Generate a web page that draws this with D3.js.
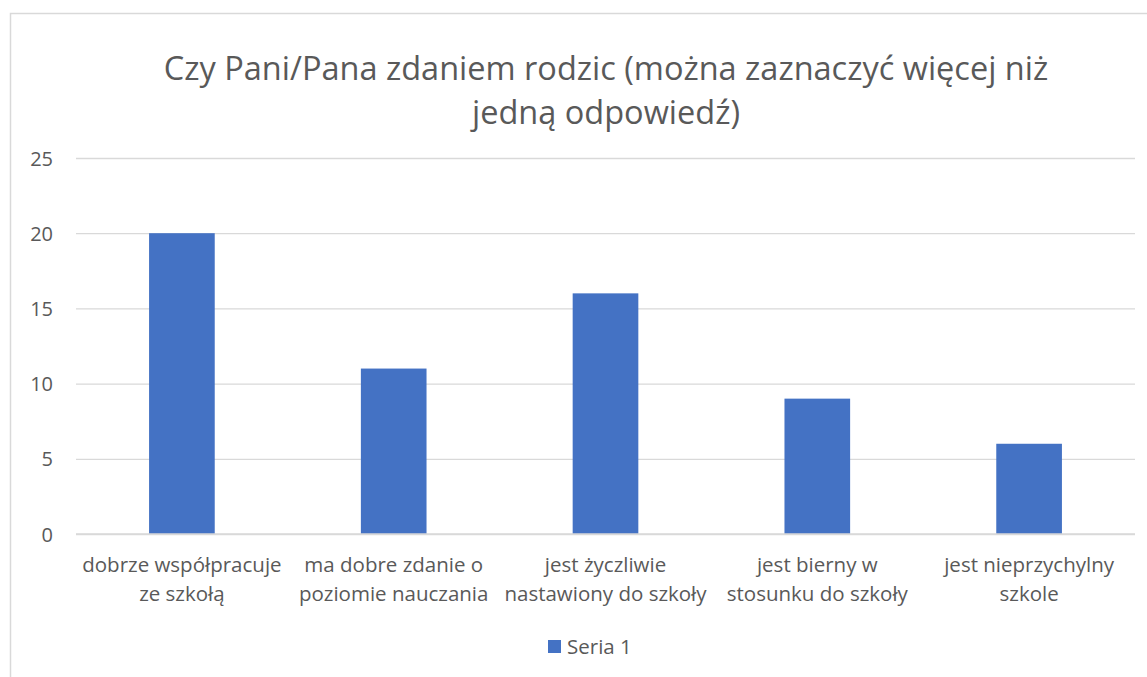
<!DOCTYPE html>
<html>
<head>
<meta charset="utf-8">
<script src="https://cdn.jsdelivr.net/npm/d3@7"></script>
<style>
  body { margin: 0; background: #fff; }
  svg { font-family: "Open Sans", sans-serif; }
</style>
</head>
<body>
<div id="chart"></div>
<script>
var categories = [
    ["dobrze współpracuje", "ze szkołą"],
    ["ma dobre zdanie o", "poziomie nauczania"],
    ["jest życzliwie", "nastawiony do szkoły"],
    ["jest bierny w", "stosunku do szkoły"],
    ["jest nieprzychylny", "szkole"]
];
var values = [20, 11, 16, 9, 6];
var yTicks = [0, 5, 10, 15, 20, 25];
var titleLines = ["Czy Pani/Pana zdaniem rodzic (można zaznaczyć więcej niż", "jedną odpowiedź)"];
var seriesName = "Seria 1";

var width = 1147, height = 677;
var margin = {top: 158, bottom: 143, left: 76, right: 12};
var barColor = "#4472c4";
var textColor = "#595959";

var svg = d3.select("#chart").append("svg")
    .attr("width", width)
    .attr("height", height);

// chart frame
svg.append("rect")
    .attr("x", 10.5).attr("y", 13.5)
    .attr("width", width + 20).attr("height", height + 20)
    .attr("fill", "none")
    .attr("stroke", "#d9d9d9")
    .attr("stroke-width", 1.5);

svg.selectAll(".title").data(titleLines).enter()
    .append("text")
    .attr("class", "title")
    .attr("x", 606)
    .attr("y", function (d, i) { return 80 + i * 44; })
    .attr("text-anchor", "middle")
    .attr("font-size", 32.5)
    .attr("fill", textColor)
    .text(function (d) { return d; });

var x = d3.scaleBand()
    .domain(d3.range(values.length))
    .range([margin.left, width - margin.right])
    .paddingInner(0.69)
    .paddingOuter(0.345);

var y = d3.scaleLinear()
    .domain([0, 25])
    .range([height - margin.bottom, margin.top]);

var yAxis = svg.append("g")
    .attr("transform", "translate(" + margin.left + ",0)")
    .call(d3.axisLeft(y).tickValues(yTicks).tickSize(-(width - margin.right - margin.left)).tickPadding(23));

yAxis.select(".domain").remove();
yAxis.selectAll(".tick line").attr("stroke", "#d9d9d9").attr("stroke-width", 1.3);
yAxis.selectAll(".tick text")
    .attr("fill", textColor)
    .attr("font-size", 20)
    .attr("font-family", "'Open Sans', sans-serif")
    .attr("dy", "0.35em");

svg.append("g").selectAll("rect").data(values).enter()
    .append("rect")
    .attr("x", function (d, i) { return x(i); })
    .attr("y", function (d) { return y(d); })
    .attr("width", x.bandwidth())
    .attr("height", function (d) { return y(0) - y(d); })
    .attr("fill", barColor);

// baseline over bars
svg.append("line")
    .attr("x1", margin.left).attr("x2", width - margin.right)
    .attr("y1", y(0)).attr("y2", y(0))
    .attr("stroke", "#d9d9d9")
    .attr("stroke-width", 1.3);

var labels = svg.append("g").selectAll("text").data(categories).enter()
    .append("text")
    .attr("text-anchor", "middle")
    .attr("font-size", 20.5)
    .attr("fill", textColor)
    .attr("transform", function (d, i) {
        return "translate(" + (x(i) + x.bandwidth() / 2) + "," + (y(0) + 38) + ")";
    });
labels.selectAll("tspan").data(function (d) { return d; }).enter()
    .append("tspan")
    .attr("x", 0)
    .attr("y", function (d, i) { return i * 28.5; })
    .text(function (d) { return d; });

var legend = svg.append("g").attr("transform", "translate(548,640)");
legend.append("rect")
    .attr("width", 13).attr("height", 13)
    .attr("fill", barColor);
legend.append("text")
    .attr("x", 19).attr("y", 14)
    .attr("font-size", 20.5)
    .attr("fill", textColor)
    .text(seriesName);
</script>
</body>
</html>
